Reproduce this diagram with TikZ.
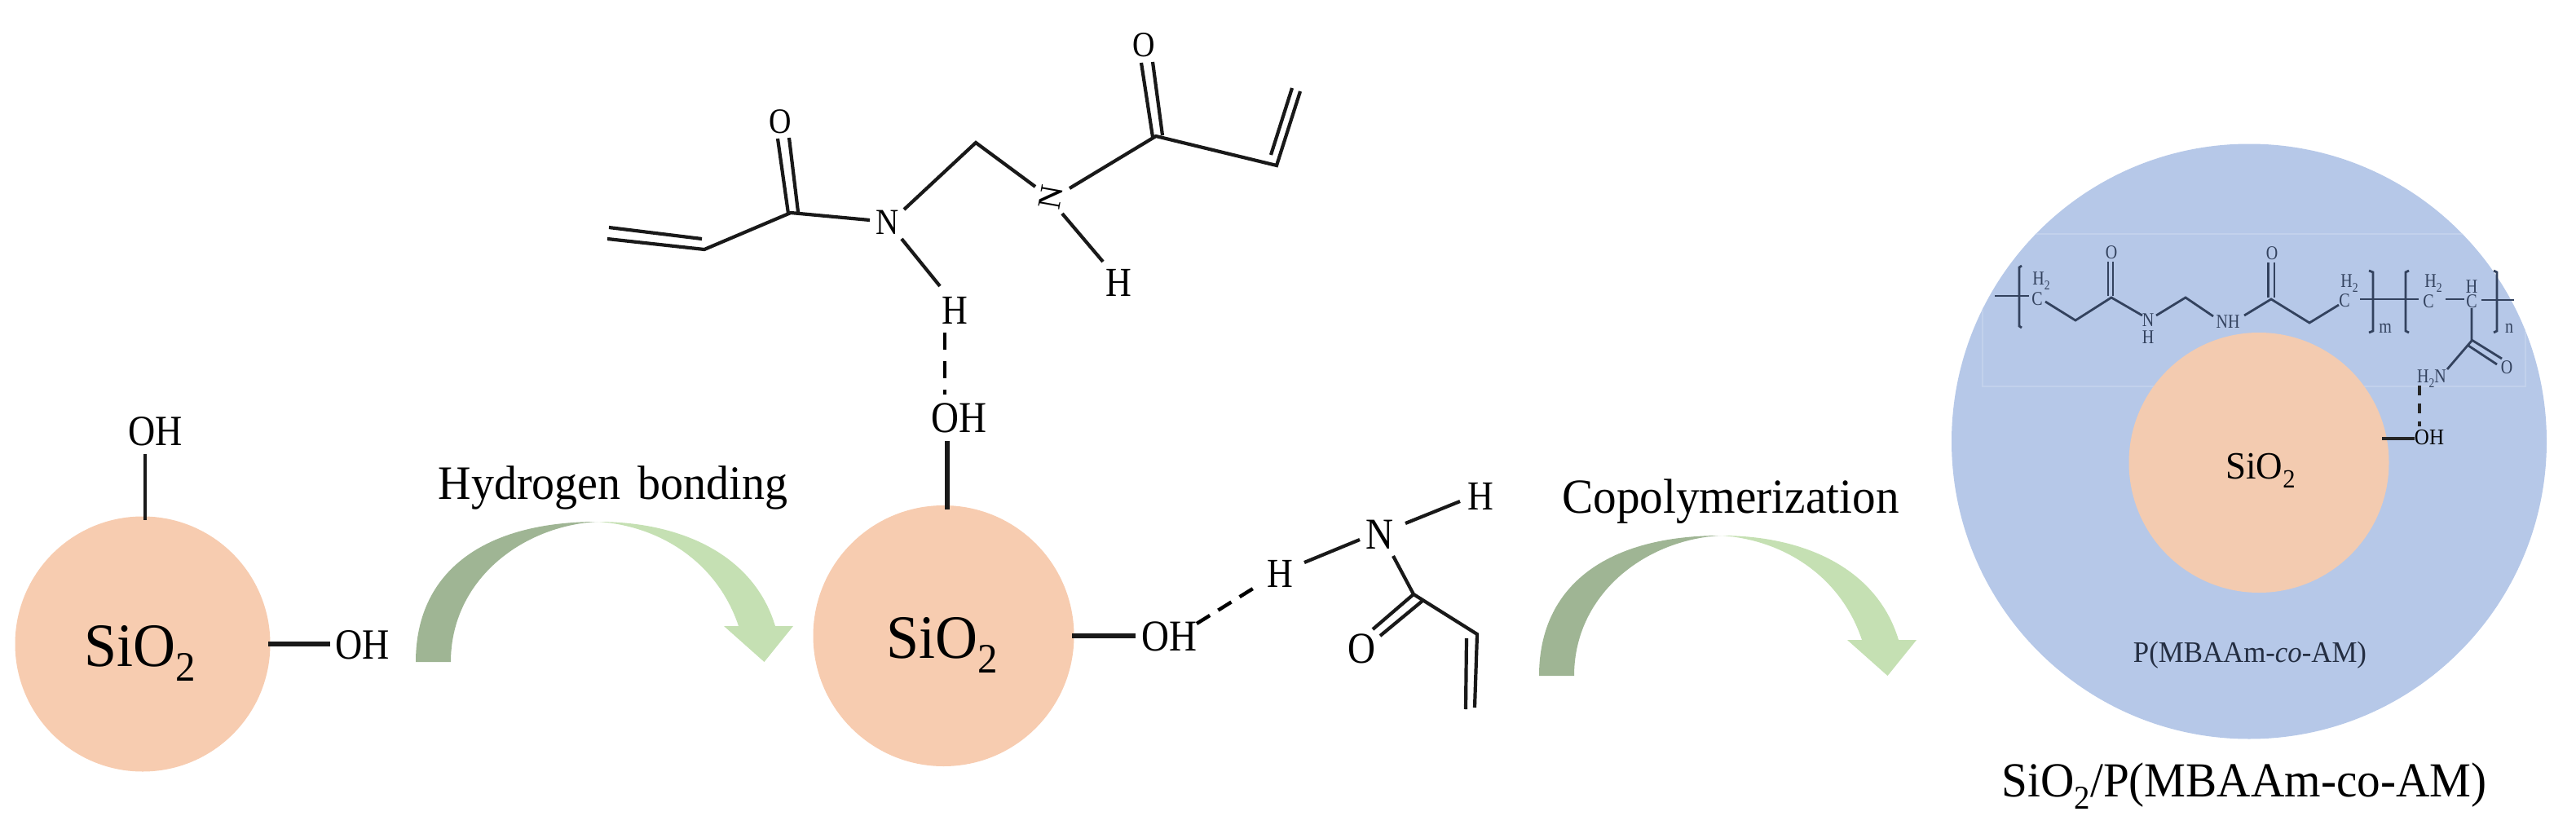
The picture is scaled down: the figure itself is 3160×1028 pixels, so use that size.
\documentclass[tikz,border=0pt]{standalone}
\usepackage{fontspec}
\setmainfont{Liberation Serif}
\definecolor{siofill}{HTML}{F7CCB0}
\definecolor{siofilltwo}{HTML}{F3CBB0}
\definecolor{shellblue}{HTML}{B6C8E8}
\definecolor{shellline}{HTML}{C2D1EC}
\definecolor{arrowdark}{HTML}{9FB594}
\definecolor{arrowlight}{HTML}{C5E0B3}
\definecolor{polyink}{HTML}{33425E}
\newcommand{\subtwo}{\raisebox{-.25em}{\scalebox{.68}{2}}}
\tikzset{
  txt/.style={font=\fontsize{#1}{#1}\selectfont,inner sep=0pt,outer sep=0pt,anchor=base},
  atom/.style={txt=#1,yscale=1.15},
  ptxt/.style={txt=#1,text=polyink,yscale=1.2},
  bond/.style={line width=2.4pt,black!90},
  thinbond/.style={line width=2.1pt,black!90},
  hbond/.style={line width=2.2pt,black,dash pattern=on 10.5pt off 7pt},
  pbond/.style={line width=1.4pt,polyink},
  particle/.style={circle,inner sep=0pt,outer sep=0pt,draw=none,fill=siofill},
  bendarrow/.pic={
    \fill[arrowdark] (510,812) .. controls (510,700) and (595,640) .. (733,640)
      .. controls (640,645) and (553,712) .. (553,812) -- cycle;
    \fill[arrowlight] (733,640) .. controls (838,640) and (925,682) .. (951,768)
      -- (973,768) -- (937.5,812) -- (888,768) -- (906,768)
      .. controls (880,690) and (810,645) .. (733,640) -- cycle;
  }
}
\begin{document}
\begin{tikzpicture}[x=0.5pt,y=-0.5pt]
\useasboundingbox (0,0) rectangle (3160,1028);

%% ---------- first particle
\node[particle,minimum size=156.5pt] (pa) at (175,790) {};
\node[txt=36,yscale=1.05] (pasio) at (172,817) {SiO\subtwo};
\node[atom=23] (paohtop) at (191,546) {OH};
\node[atom=23] (paohright) at (445,808) {OH};
\coordinate (pa1) at (178,557);
\coordinate (pa2) at (178,638);
\coordinate (pa3) at (329,790);
\coordinate (pa4) at (405,790);
\draw[bond] (pa1) -- (pa2);
\draw[bond,line width=2.8pt] (pa3) -- (pa4);

%% ---------- arrows
\pic at (0,0) {bendarrow};
\pic at (1378,17) {bendarrow};
\node[txt=28,yscale=1.05] (lab1) at (752,612) {Hydrogen\hspace{.12em} bonding};
\node[txt=28.6,yscale=1.05] (lab2) at (2123,629) {Copolymerization};

%% ---------- second particle
\node[particle,minimum size=160pt] (pb) at (1157.5,780) {};
\node[txt=36,yscale=1.05] (pbsio) at (1156,807) {SiO\subtwo};
\node[atom=23.5] (pboh) at (1176,530) {OH};
\node[atom=23.5] (pbohr) at (1434,798) {OH};
\coordinate (pb1) at (1162,541);
\coordinate (pb2) at (1162,625);
\coordinate (pb3) at (1315,780);
\coordinate (pb4) at (1393,780);
\draw[bond,line width=2.6pt] (pb1) -- (pb2);
\draw[bond,line width=2.8pt] (pb3) -- (pb4);

%% ---------- MBAAm molecule
\node[atom=19] (mo1) at (957,163) {O};
\node[atom=19.5] (mn1) at (1089,287) {N};
\node[txt=20,rotate=80,anchor=center] (mn2) at (1289,242) {N};
\node[atom=19] (mo2) at (1403,69) {O};
\node[atom=22] (mh1) at (1171,397) {H};
\node[atom=22] (mh2) at (1372,363) {H};
\coordinate (c1) at (970,261);
\coordinate (c2) at (864,306);
\coordinate (c3) at (745,293);
\coordinate (ch) at (1197,175);
\coordinate (c4) at (1418,167);
\coordinate (c5) at (1566,203);
\coordinate (c6) at (1595,112);
\draw[thinbond] (c3) -- (c2) -- (c1) -- (1067,270);
\draw[thinbond] (747,279) -- (861,293);
\draw[thinbond] (954,170) -- (967,262);
\draw[thinbond] (968,169) -- (979,260);
\draw[thinbond] (1109,257) -- (ch) -- (1270,229);
\draw[thinbond] (1312,231) -- (c4) -- (c5) -- (c6);
\draw[thinbond] (1559,190) -- (1585,108);
\draw[thinbond] (1400,77) -- (1414,168);
\draw[thinbond] (1414,76) -- (1426,166);
\draw[thinbond] (1106,293) -- (1153,351);
\draw[thinbond] (1303,262) -- (1353,321);
\draw[hbond] (1159,408) -- (1159,484);

%% ---------- acrylamide
\node[atom=23.5] (an) at (1692,673) {N};
\node[atom=22] (ah1) at (1570,720) {H};
\node[atom=22] (ah2) at (1816,625) {H};
\node[atom=23.5] (ao) at (1670,813) {O};
\coordinate (ac1) at (1734,729);
\coordinate (ac2) at (1812,778);
\draw[thinbond] (1600,690) -- (1668,662);
\draw[thinbond] (1724,642) -- (1791,615);
\draw[thinbond] (1709,682) -- (ac1) -- (ac2) -- (1809,868);
\draw[thinbond] (1799,783) -- (1798,870);
\draw[thinbond] (ac1) -- (1684,772);
\draw[thinbond] (1745,737) -- (1693,780);
\draw[line width=2.2pt,black,dash pattern=on 9.5pt off 6pt] (1468,765) -- (1545,717);

%% ---------- composite particle
\node[circle,inner sep=0pt,draw=none,fill=shellblue,minimum size=365pt] (shell) at (2759,541.5) {};
\begin{scope}
  \clip (shell.center) circle[x radius=365,y radius=365];
  \draw[shellline,line width=1pt] (2432,287) rectangle (3098,474);
\end{scope}
\node[particle,fill=siofilltwo,minimum size=159.5pt] (core) at (2771,567.5) {};
\node[txt=22.5,yscale=1.05] (coresio) at (2773,587) {SiO\subtwo};
\node[txt=17.4,text=polyink!70!black,yscale=1.05] (plab) at (2760,812) {P(MBAAm-\textit{co}-AM)};
\node[txt=28.6,yscale=1.05] (title) at (2753,977) {SiO\subtwo/P(MBAAm-co-AM)};

%% polymer chain
\draw[pbond] (2447,363) -- (2489,363);
\draw[pbond] (2480,326) -- (2477,328) -- (2477,400) -- (2480,402);
\node[ptxt=10] at (2504,349) {H\subtwo};
\node[ptxt=10] at (2499,374) {C};
\draw[pbond] (2509,370) -- (2546,393) -- (2590,365) -- (2628,387);
\draw[pbond] (2586,363) -- (2586,321);
\draw[pbond] (2592,363) -- (2592,321);
\node[ptxt=10] at (2590,317) {O};
\node[ptxt=10] at (2635,400) {N};
\node[ptxt=10] at (2635,421) {H};
\draw[pbond] (2645,387) -- (2681,365) -- (2715,388);
\node[ptxt=10] at (2733,402) {NH};
\draw[pbond] (2753,387) -- (2786,367) -- (2833,396) -- (2869,374);
\draw[pbond] (2782.5,365) -- (2782.5,322);
\draw[pbond] (2790,365) -- (2790,322);
\node[ptxt=10] at (2787,318) {O};
\node[ptxt=10] at (2876,376) {C};
\node[ptxt=10] at (2882,352) {H\subtwo};
\draw[pbond] (2895,367) -- (2967,367);
\draw[pbond] (2906,332) -- (2911,334) -- (2911,406) -- (2906,408);
\node[ptxt=10] at (2926,408) {m};
\draw[pbond] (2955,332) -- (2951,334) -- (2951,406) -- (2955,408);
\node[ptxt=10] at (2979,377) {C};
\node[ptxt=10] at (2985,352) {H\subtwo};
\draw[pbond] (3000,367) -- (3023,367);
\node[ptxt=10] at (3032,377) {C};
\node[ptxt=10] at (3032,359) {H};
\draw[pbond] (3044,368) -- (3084,368);
\draw[pbond] (3059,332) -- (3063,334) -- (3063,406) -- (3059,408);
\node[ptxt=10] at (3078,408) {n};
\draw[pbond] (3032,378) -- (3032,418) -- (3002,453);
\draw[pbond] (3032,417) -- (3069,440);
\draw[pbond] (3028,424) -- (3063,447);
\node[ptxt=10] at (3075,458) {O};
\node[ptxt=10] (h2n) at (2983,469) {H\subtwo N};
\draw[line width=1.7pt,black!85,dash pattern=on 6pt off 5pt] (2968,473) -- (2968,523);
\node[txt=12.5,yscale=1.1] (coreoh) at (2980,545) {OH};
\coordinate (cb1) at (2922,538);
\coordinate (cb2) at (2962,538);
\draw[line width=1.7pt,black!85] (cb1) -- (cb2);
\end{tikzpicture}
\end{document}
